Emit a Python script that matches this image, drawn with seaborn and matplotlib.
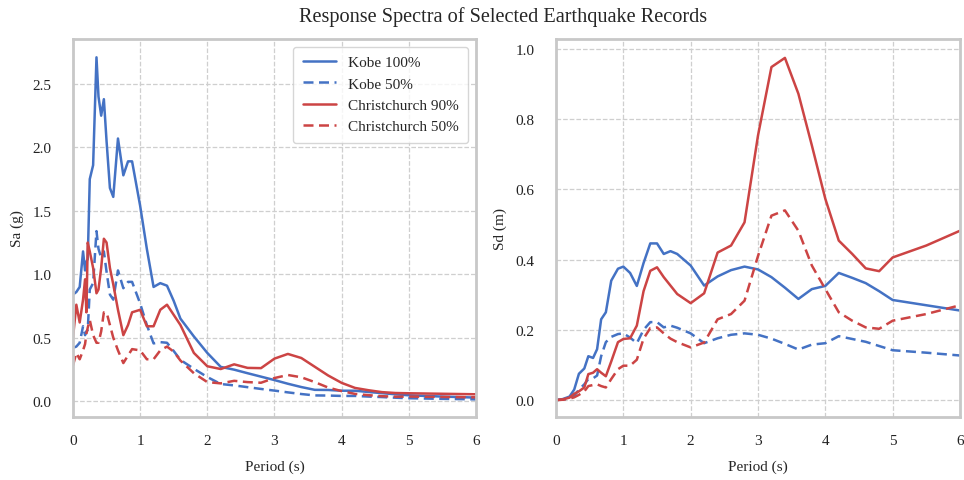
import numpy as np
import pandas as pd
import matplotlib
matplotlib.use("Agg")
import matplotlib.pyplot as plt
import seaborn as sns

# ---------------- data ----------------
period_sa = [0.0, 0.05, 0.1, 0.15, 0.18, 0.2, 0.22, 0.25, 0.3, 0.35, 0.38, 0.42, 0.46, 0.5,
             0.55, 0.6, 0.67, 0.75, 0.82, 0.88, 1.0, 1.1, 1.2, 1.3, 1.4, 1.5, 1.6, 1.8, 2.0,
             2.2, 2.4, 2.6, 2.8, 3.0, 3.2, 3.4, 3.6, 3.8, 4.0, 4.2, 4.4, 4.6, 4.8, 5.0, 5.5, 6.0]

kobe100_sa = [0.84, 0.86, 0.90, 1.18, 1.03, 1.10, 1.12, 1.75, 1.86, 2.71, 2.40, 2.25, 2.38, 2.05,
              1.68, 1.61, 2.07, 1.78, 1.89, 1.89, 1.54, 1.20, 0.90, 0.93, 0.91, 0.79, 0.65, 0.51, 0.38,
              0.27, 0.248, 0.22, 0.193, 0.166, 0.137, 0.111, 0.089, 0.088, 0.082, 0.082, 0.072, 0.063, 0.054, 0.046, 0.036, 0.028]

kobe50_sa = [0.42, 0.43, 0.46, 0.59, 0.52, 0.55, 0.56, 0.88, 0.93, 1.34, 1.20, 1.13, 1.18, 1.02,
             0.84, 0.80, 1.03, 0.89, 0.94, 0.94, 0.77, 0.60, 0.455, 0.465, 0.46, 0.395, 0.325, 0.255, 0.19,
             0.135, 0.124, 0.11, 0.096, 0.083, 0.069, 0.056, 0.045, 0.044, 0.041, 0.041, 0.036, 0.032, 0.027, 0.023, 0.018, 0.014]

chch90_sa = [0.50, 0.76, 0.62, 0.80, 0.96, 0.70, 1.25, 1.18, 1.05, 0.85, 0.88, 1.05, 1.28, 1.25,
             1.05, 0.92, 0.72, 0.52, 0.60, 0.70, 0.72, 0.59, 0.59, 0.72, 0.76, 0.68, 0.60, 0.38, 0.275,
             0.253, 0.29, 0.262, 0.26, 0.335, 0.372, 0.34, 0.271, 0.202, 0.144, 0.104, 0.086, 0.071, 0.064, 0.062, 0.058, 0.054]

chch50_sa = [0.28, 0.38, 0.33, 0.40, 0.45, 0.53, 0.58, 0.64, 0.52, 0.46, 0.46, 0.55, 0.70, 0.70,
             0.60, 0.50, 0.40, 0.30, 0.36, 0.41, 0.40, 0.33, 0.33, 0.40, 0.43, 0.39, 0.32, 0.22, 0.15,
             0.14, 0.16, 0.15, 0.145, 0.182, 0.206, 0.188, 0.15, 0.107, 0.079, 0.057, 0.047, 0.039, 0.035, 0.036, 0.033, 0.030]

period_sd = [0.0, 0.1, 0.2, 0.27, 0.34, 0.42, 0.48, 0.55, 0.61, 0.67, 0.74, 0.82, 0.92, 1.0, 1.1,
             1.2, 1.3, 1.4, 1.5, 1.6, 1.7, 1.8, 2.0, 2.2, 2.4, 2.6, 2.8, 3.0, 3.2, 3.4, 3.6, 3.8,
             4.0, 4.2, 4.4, 4.6, 4.8, 5.0, 5.5, 6.0]

kobe100_sd = [0.0, 0.003, 0.01, 0.03, 0.075, 0.09, 0.125, 0.12, 0.145, 0.23, 0.25, 0.34, 0.374, 0.38, 0.362,
              0.325, 0.39, 0.446, 0.446, 0.416, 0.424, 0.416, 0.383, 0.326, 0.352, 0.37, 0.38, 0.372, 0.35, 0.32,
              0.288, 0.316, 0.325, 0.362, 0.348, 0.333, 0.31, 0.285, 0.27, 0.255]

kobe50_sd = [0.0, 0.002, 0.005, 0.012, 0.03, 0.045, 0.06, 0.062, 0.07, 0.125, 0.165, 0.18, 0.188, 0.19, 0.178,
             0.162, 0.20, 0.222, 0.222, 0.207, 0.212, 0.206, 0.19, 0.162, 0.176, 0.186, 0.19, 0.186, 0.175, 0.16,
             0.144, 0.158, 0.162, 0.182, 0.174, 0.166, 0.154, 0.142, 0.135, 0.127]

chch90_sd = [0.0, 0.002, 0.007, 0.018, 0.025, 0.036, 0.074, 0.078, 0.088, 0.078, 0.068, 0.11, 0.165, 0.174, 0.176,
             0.212, 0.31, 0.368, 0.378, 0.35, 0.326, 0.302, 0.276, 0.304, 0.42, 0.44, 0.506, 0.753, 0.948, 0.974,
             0.872, 0.725, 0.573, 0.454, 0.416, 0.375, 0.367, 0.406, 0.44, 0.482]

chch50_sd = [0.0, 0.001, 0.004, 0.008, 0.015, 0.025, 0.04, 0.043, 0.045, 0.04, 0.036, 0.06, 0.088, 0.098, 0.098,
             0.115, 0.175, 0.205, 0.207, 0.19, 0.175, 0.165, 0.15, 0.164, 0.23, 0.245, 0.283, 0.41, 0.525, 0.54,
             0.482, 0.383, 0.316, 0.25, 0.226, 0.207, 0.203, 0.226, 0.245, 0.27]

labels = ["Kobe 100%", "Kobe 50%", "Christchurch 90%", "Christchurch 50%"]
title = "Response Spectra of Selected Earthquake Records"

# ---------------- style ----------------
sns.set_theme(style="whitegrid")
plt.rcParams["font.family"] = ["Liberation Serif", "DejaVu Serif"]
plt.rcParams["grid.linestyle"] = "--"
plt.rcParams["grid.color"] = "#cfcfcf"
plt.rcParams["grid.linewidth"] = 0.9

blue = "#4472c4"
red = "#cc4444"
palette = {labels[0]: blue, labels[1]: blue, labels[2]: red, labels[3]: red}
dashes = {labels[0]: "", labels[1]: (4, 2.2), labels[2]: "", labels[3]: (4, 2.2)}

def long_frame(period, series):
    frames = []
    for lab, vals in zip(labels, series):
        frames.append(pd.DataFrame({"Period": period, "Value": vals, "Record": lab}))
    return pd.concat(frames, ignore_index=True)

df_sa = long_frame(period_sa, [kobe100_sa, kobe50_sa, chch90_sa, chch50_sa])
df_sd = long_frame(period_sd, [kobe100_sd, kobe50_sd, chch90_sd, chch50_sd])

fig = plt.figure(figsize=(9.64, 4.81), dpi=100)
ax1 = fig.add_axes([0.0757, 0.131, 0.418, 0.786])
ax2 = fig.add_axes([0.5768, 0.131, 0.419, 0.786])

sns.lineplot(data=df_sa, x="Period", y="Value", hue="Record", style="Record",
             palette=palette, dashes=dashes, linewidth=1.8, ax=ax1, sort=False)
sns.lineplot(data=df_sd, x="Period", y="Value", hue="Record", style="Record",
             palette=palette, dashes=dashes, linewidth=1.8, ax=ax2, sort=False, legend=False)

ax1.set_xlim(0, 6)
ax1.set_ylim(-0.125, 2.855)
ax1.set_yticks([0.0, 0.5, 1.0, 1.5, 2.0, 2.5])
ax1.set_ylabel("Sa (g)", fontsize=11, labelpad=6)
ax2.set_xlim(0, 6)
ax2.set_ylim(-0.048, 1.028)
ax2.set_yticks([0.0, 0.2, 0.4, 0.6, 0.8, 1.0])
ax2.set_ylabel("Sd (m)", fontsize=11, labelpad=6)

for ax in (ax1, ax2):
    ax.set_xticks(range(7))
    ax.set_xlabel("Period (s)", fontsize=11, labelpad=9)
    ax.tick_params(labelsize=11, colors="#222222")
    ax.tick_params(axis="x", pad=6.5)
    ax.tick_params(axis="y", pad=9.5)
    ax.yaxis.set_major_formatter(matplotlib.ticker.FormatStrFormatter("%.1f"))
    for sp in ax.spines.values():
        sp.set_color("#c8c8c8")
        sp.set_linewidth(2.0)

leg = ax1.legend(loc="upper right", fontsize=11, frameon=True, handlelength=2.2,
                 borderpad=0.6, labelspacing=0.5)
leg.get_frame().set_edgecolor("#cccccc")
leg.get_frame().set_linewidth(1.0)

fig.suptitle(title, fontsize=14.6, x=0.522, y=0.985)
fig.savefig("out.png", dpi=100)
